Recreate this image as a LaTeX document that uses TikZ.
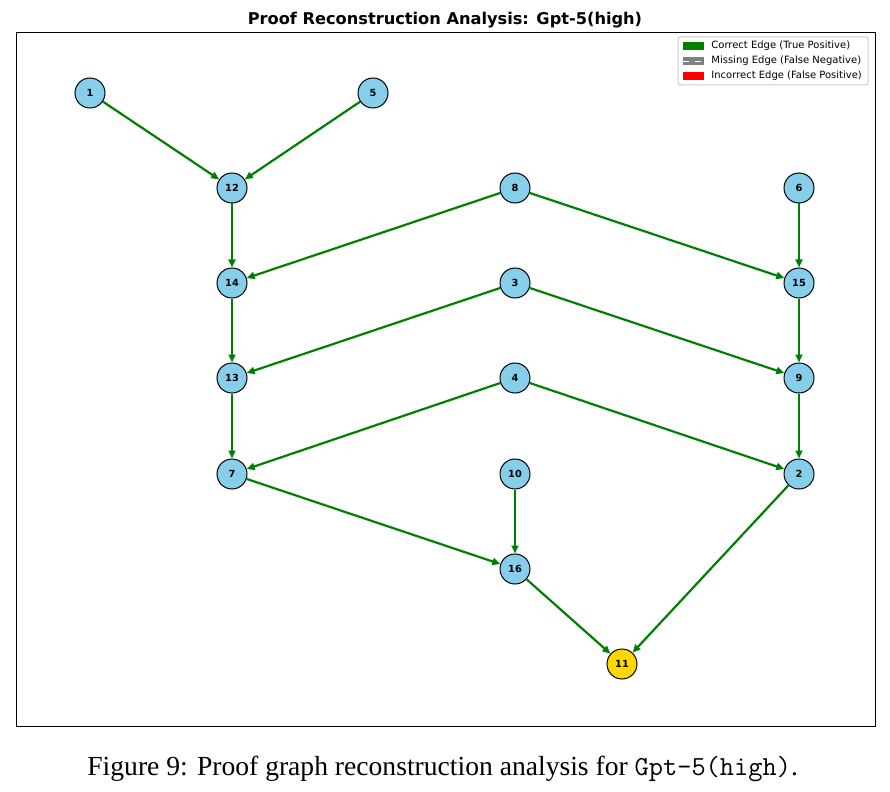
\documentclass[tikz,border=0pt]{standalone}
\usepackage{fontspec}
\setmainfont{Liberation Serif}
\newfontfamily\djv{DejaVu Sans}
\usetikzlibrary{arrows.meta}
\definecolor{skyblue}{RGB}{135,206,235}
\definecolor{goldnode}{RGB}{255,215,0}
\definecolor{edgegreen}{RGB}{0,128,0}
\tikzset{
  vertex/.style={circle, minimum size=15pt, inner sep=0pt, draw, line width=0.5pt, fill=skyblue, font=\djv\bfseries\fontsize{4.9}{5}\selectfont},
  correct/.style={draw=edgegreen, line width=1.1pt, -{Triangle[length=4pt,width=3.5pt]}},
  legtext/.style={anchor=west, inner sep=0pt, font=\djv\fontsize{5}{6}\selectfont}
}
\begin{document}
\begin{tikzpicture}[x=0.5pt,y=0.5pt]
\useasboundingbox (0,0) rectangle (890,-792);

\node [font=\djv\bfseries\fontsize{8.1}{9}\selectfont] (title) at (445,-20) {Proof Reconstruction Analysis: Gpt-5(high)};
\draw [line width=0.5pt] (16,-33) rectangle (875,-726);

\node [vertex] (v1) at (90,-93) {1};
\node [vertex] (v5) at (373,-93) {5};
\node [vertex] (v12) at (232,-188) {12};
\node [vertex] (v8) at (515,-188) {8};
\node [vertex] (v6) at (799,-188) {6};
\node [vertex] (v14) at (232,-283) {14};
\node [vertex] (v3) at (515,-283) {3};
\node [vertex] (v15) at (799,-283) {15};
\node [vertex] (v13) at (232,-378) {13};
\node [vertex] (v4) at (515,-378) {4};
\node [vertex] (v9) at (799,-378) {9};
\node [vertex] (v7) at (232,-474) {7};
\node [vertex] (v10) at (515,-474) {10};
\node [vertex] (v2) at (799,-474) {2};
\node [vertex] (v16) at (515,-569) {16};
\node [vertex, fill=goldnode] (v11) at (622,-664) {11};

\draw [correct] (v1) edge (v12);
\draw [correct] (v5) edge (v12);
\draw [correct] (v12) edge (v14);
\draw [correct] (v8) edge (v14);
\draw [correct] (v8) edge (v15);
\draw [correct] (v6) edge (v15);
\draw [correct] (v14) edge (v13);
\draw [correct] (v3) edge (v13);
\draw [correct] (v3) edge (v9);
\draw [correct] (v15) edge (v9);
\draw [correct] (v13) edge (v7);
\draw [correct] (v4) edge (v7);
\draw [correct] (v4) edge (v2);
\draw [correct] (v9) edge (v2);
\draw [correct] (v7) edge (v16);
\draw [correct] (v10) edge (v16);
\draw [correct] (v16) edge (v11);
\draw [correct] (v2) edge (v11);

% legend
\draw [draw=black!20, fill=white, line width=0.5pt, rounded corners=1pt] (678,-37) rectangle (868,-85);
\fill [edgegreen] (683,-42) rectangle (704,-50);
\fill [gray] (683,-57) rectangle (704,-65);
\draw [white, dashed, line width=0.4pt] (683,-61) -- (704,-61);
\fill [red] (683,-72) rectangle (704,-80);
\node [legtext] (lg1) at (711,-46) {Correct Edge (True Positive)};
\node [legtext] (lg2) at (711,-61) {Missing Edge (False Negative)};
\node [legtext] (lg3) at (711,-76) {Incorrect Edge (False Positive)};

\node [anchor=west, inner sep=0pt, font=\fontsize{13.8}{16}\selectfont] (caption) at (87,-769) {Figure 9: Proof graph reconstruction analysis for \texttt{Gpt-5(high)}.};
\end{tikzpicture}
\end{document}
